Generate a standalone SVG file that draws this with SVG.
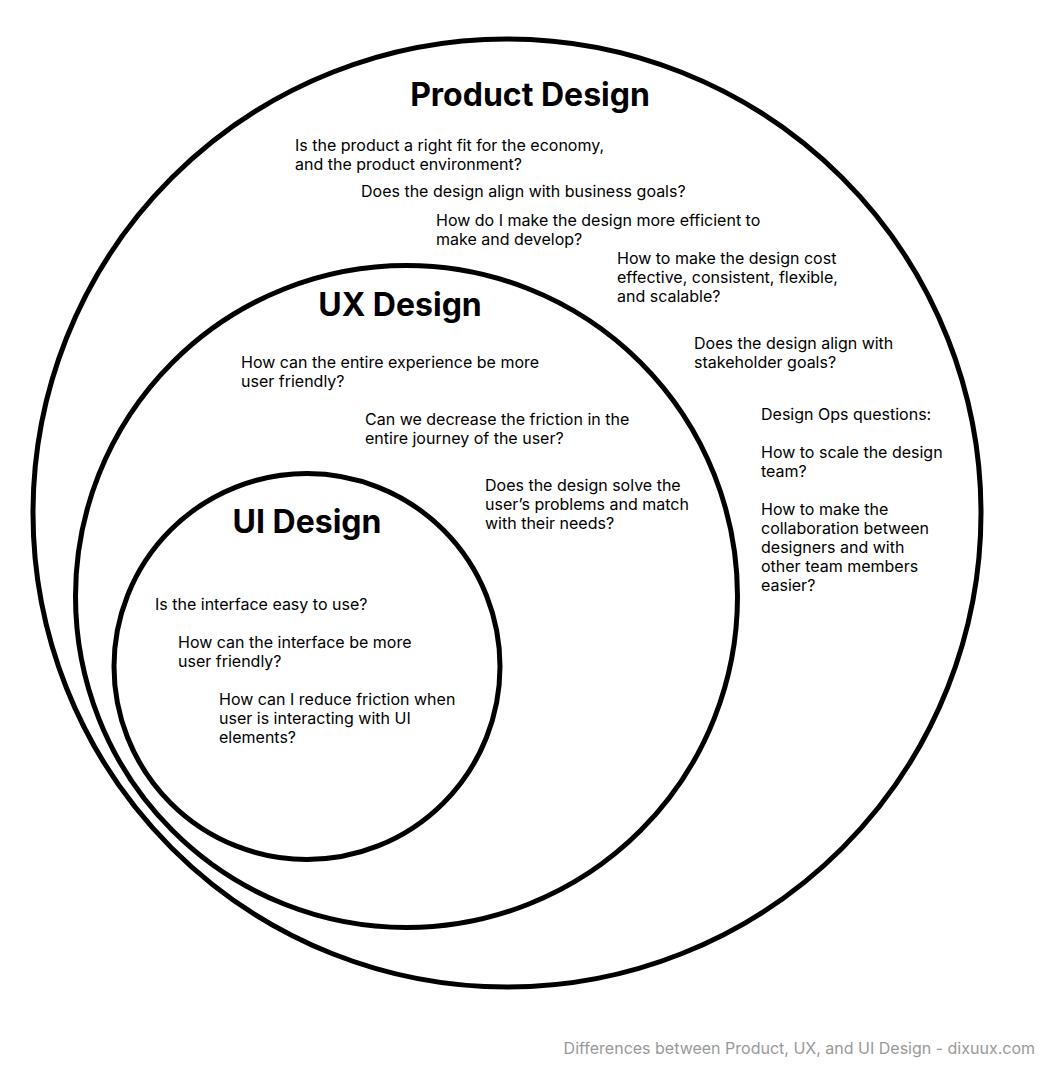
<svg xmlns="http://www.w3.org/2000/svg" width="1062" height="1076" viewBox="0 0 1062 1076">
<style>
.c{fill:none;stroke:#000;stroke-width:5}
.t{font-family:Inter,"Liberation Sans",sans-serif;font-weight:700;font-size:32px;text-anchor:middle;fill:#000}
.b{font-family:Inter,"Liberation Sans",sans-serif;font-size:16px;fill:#000}
.f{font-family:Inter,"Liberation Sans",sans-serif;font-size:16px;fill:#999;text-anchor:end}
</style>
<rect width="1062" height="1076" fill="#fff"/>
<g id="product">
<circle class="c" cx="507" cy="513" r="474"/>
<text class="t" x="530" y="106">Product Design</text>
<text class="b" x="295" y="151">Is the product a right fit for the economy,</text>
<text class="b" x="295" y="170">and the product environment?</text>
<text class="b" x="361" y="197">Does the design align with business goals?</text>
<text class="b" x="436" y="226">How do I make the design more efficient to</text>
<text class="b" x="436" y="245">make and develop?</text>
<text class="b" x="617" y="264">How to make the design cost</text>
<text class="b" x="617" y="283">effective, consistent, flexible,</text>
<text class="b" x="617" y="302">and scalable?</text>
<text class="b" x="694" y="349">Does the design align with</text>
<text class="b" x="694" y="368">stakeholder goals?</text>
<text class="b" x="761" y="420">Design Ops questions:</text>
<text class="b" x="761" y="458">How to scale the design</text>
<text class="b" x="761" y="477">team?</text>
<text class="b" x="761" y="515">How to make the</text>
<text class="b" x="761" y="534">collaboration between</text>
<text class="b" x="761" y="553">designers and with</text>
<text class="b" x="761" y="572">other team members</text>
<text class="b" x="761" y="591">easier?</text>
</g>
<g id="ux">
<circle class="c" cx="406.5" cy="596.5" r="331"/>
<text class="t" x="400" y="316">UX Design</text>
<text class="b" x="241" y="368">How can the entire experience be more</text>
<text class="b" x="241" y="387">user friendly?</text>
<text class="b" x="365" y="425">Can we decrease the friction in the</text>
<text class="b" x="365" y="444">entire journey of the user?</text>
<text class="b" x="485" y="491">Does the design solve the</text>
<text class="b" x="485" y="510">user’s problems and match</text>
<text class="b" x="485" y="529">with their needs?</text>
</g>
<g id="ui">
<circle class="c" cx="307" cy="666.5" r="193"/>
<text class="t" x="307" y="533">UI Design</text>
<text class="b" x="155" y="610">Is the interface easy to use?</text>
<text class="b" x="178" y="648">How can the interface be more</text>
<text class="b" x="178" y="667">user friendly?</text>
<text class="b" x="219" y="705">How can I reduce friction when</text>
<text class="b" x="219" y="724">user is interacting with UI</text>
<text class="b" x="219" y="743">elements?</text>
</g>
<g id="connectors"/>
<text class="f" x="1035" y="1054">Differences between Product, UX, and UI Design - dixuux.com</text>
</svg>
